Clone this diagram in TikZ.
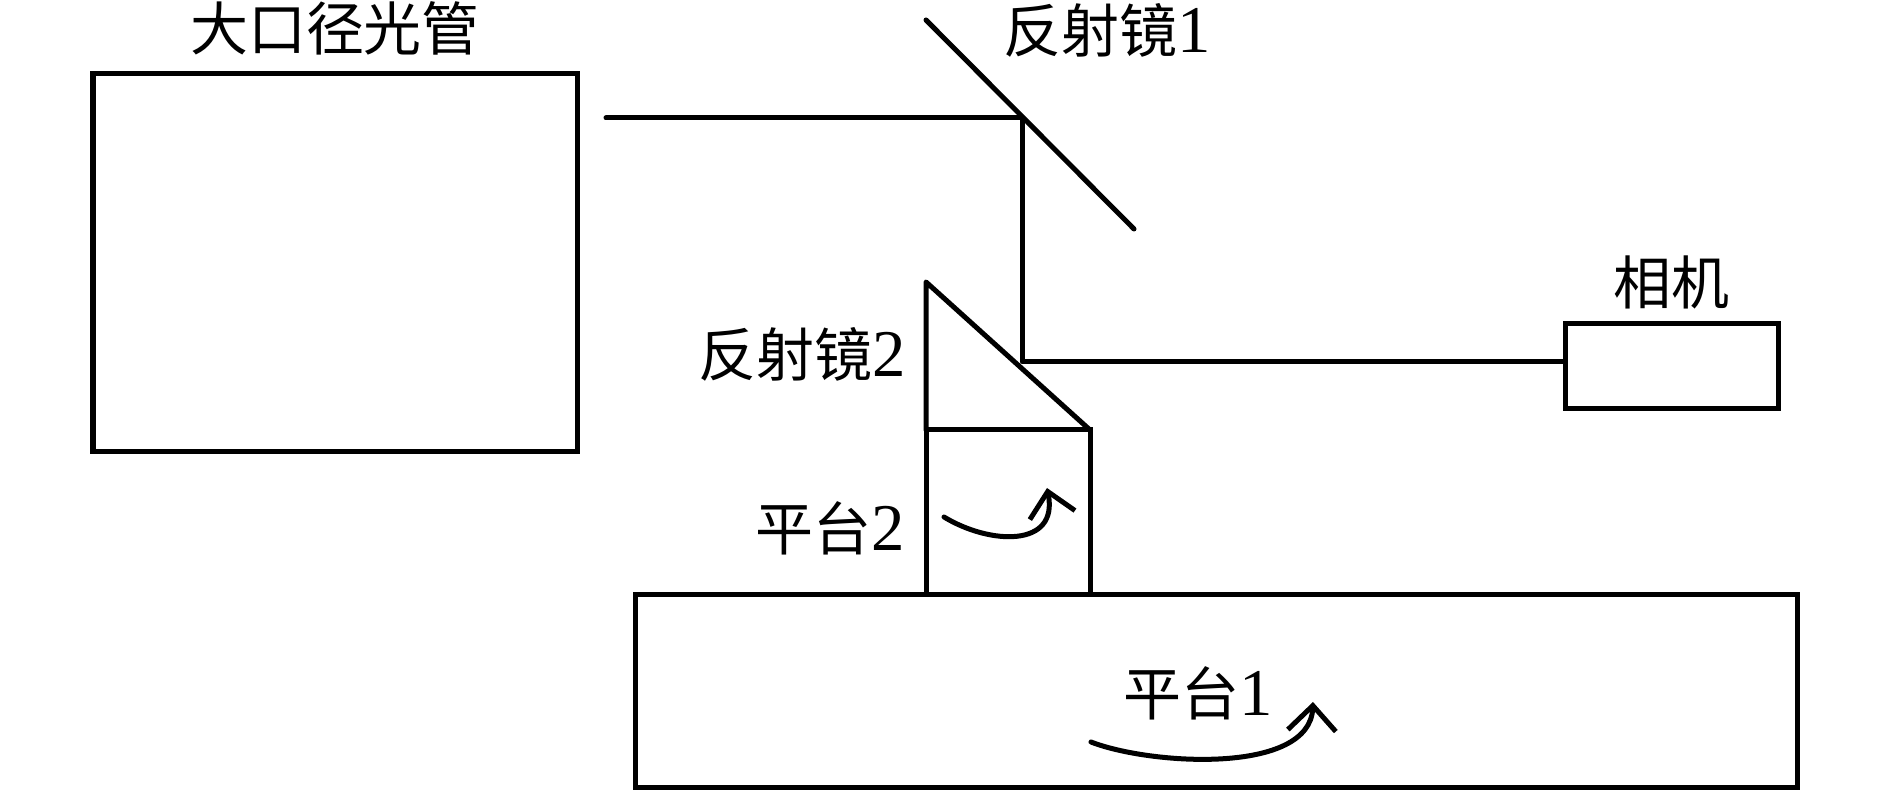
\documentclass[tikz,border=0pt]{standalone}
\usepackage{fontspec}
\setmainfont{Liberation Serif}
\newfontfamily\cjk{Noto Sans CJK SC}
\usepackage{tikz}
\usetikzlibrary{positioning}
\usetikzlibrary{arrows.meta}

\newcommand{\partnum}[1]{{\rmfamily\fontsize{19pt}{19pt}\selectfont #1}}

\tikzset{
	partbox/.style={draw, line width=0.05cm, inner sep=0pt, outer sep=0pt},
	partname/.style={inner sep=0pt, font=\cjk\fontsize{16.5pt}{18pt}\selectfont},
	partline/.style={line width=0.05cm, line cap=round, line join=round},
}

\begin{document}
\begin{tikzpicture}
	\useasboundingbox (0,0) rectangle (18.9,-7.92);
	
	\node[
	partbox,
	minimum width=4.84cm,
	minimum height=3.78cm,
	anchor=north west
	] (Collimator) at (0.93,-0.74) {};
	
	\node[partname] (CollimatorName) at (3.35,-0.28) {大口径光管};
	
	% ---
	
	\node[
	partbox,
	minimum width=2.13cm,
	minimum height=0.85cm,
	anchor=north west
	] (Camera) at (15.65,-3.24) {};
	
	\node[partname] (CameraName) at (16.71,-2.82) {相机};
	
	% ---
	
	\node[
	partbox,
	minimum width=11.62cm,
	minimum height=1.93cm,
	anchor=north west
	] (Platform1) at (6.35,-5.95) {};
	
	\node[
	partbox,
	minimum width=1.64cm,
	minimum height=1.65cm,
	above right=0cm and 2.91cm of Platform1.north west
	] (Platform2) {};
	
	\node[partname] (Platform1Name) at (11.98,-6.93) {平台\partnum{1}};
	\node[partname] (Platform2Name) at (8.30,-5.28) {平台\partnum{2}};
	
	% ---
	
	\coordinate[above=1.48cm of Platform2.north west] (Mirror2Top);
	\coordinate (Mirror1Top) at (9.26,-0.20);
	\coordinate (Mirror1Bottom) at (11.34,-2.29);
	
	\node[partname] (Mirror1Name) at (11.07,-0.30) {反射镜\partnum{1}};
	\node[partname] (Mirror2Name) at (8.02,-3.54) {反射镜\partnum{2}};
	
	\draw[partline] (Mirror1Top) -- (Mirror1Bottom);
	\draw[partline] (Platform2.north west) -- (Mirror2Top) -- (Platform2.north east);
	
	% ---
	
	\coordinate (BeamStart) at (6.06,-1.18);
	\coordinate (Hit1) at (10.22,-1.18);
	\coordinate (Hit2) at (10.22,-3.62);
	
	\draw[partline] (BeamStart) -- (Hit1) -- (Hit2) -- (Hit2 -| Camera.west);
	
	% ---
	
	\coordinate (Turn2Start) at (9.44,-5.17);
	\coordinate (Turn2End) at (10.47,-4.88);
	\coordinate (Turn1Start) at (10.91,-7.42);
	\coordinate (Turn1End) at (13.13,-7.02);
	
	\draw[partline, -{Straight Barb[length=0.24cm, width=0.46cm]}] (Turn2Start)
	.. controls (9.90,-5.45) and (10.59,-5.48) .. (Turn2End);
	
	\draw[partline, -{Straight Barb[length=0.25cm, width=0.48cm]}] (Turn1Start)
	.. controls (11.50,-7.65) and (13.10,-7.75) .. (Turn1End);
\end{tikzpicture}
\end{document}
